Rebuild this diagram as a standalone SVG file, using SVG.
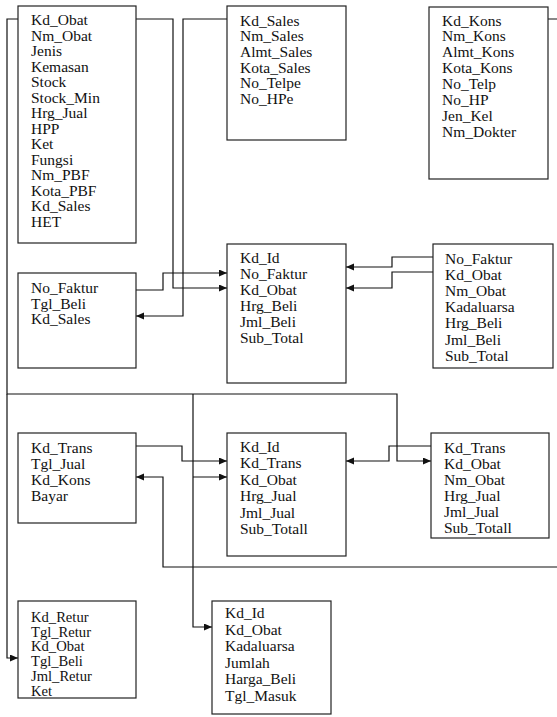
<svg xmlns="http://www.w3.org/2000/svg" width="557" height="717" viewBox="0 0 557 717">
<style>
.box{fill:#fff;stroke:#222;stroke-width:1.2}
.t{font-family:"Liberation Serif","Times New Roman",serif;font-size:15.5px;fill:#111}
.s{font-size:14.6px}
.c{fill:none;stroke:#111;stroke-width:1.2}
.a{marker-end:url(#arr)}
</style>
<defs>
<marker id="arr" markerUnits="userSpaceOnUse" markerWidth="9" markerHeight="8" refX="8" refY="3.5" orient="auto">
<path d="M0,0 L8,3.5 L0,7 z" fill="#111"/>
</marker>
</defs>
<rect width="557" height="717" fill="#fff"/>

<g id="connectors">
<path class="c a" d="M136,19 H173 V288 H227"/>
<path class="c a" d="M227,19 H183 V316 H136"/>
<path class="c a" d="M97,290 H163 V273 H227"/>
<path class="c a" d="M437,257 H392 V267 H346"/>
<path class="c a" d="M437,272 H392 V288 H346"/>
<path class="c a" d="M18,19 H7 V394 H397 V461 H431"/>
<path class="c a" d="M7,394 V658 H18"/>
<path class="c a" d="M193,394 V627 H212"/>
<path class="c a" d="M193,477 H227"/>
<path class="c a" d="M136,446 H182 V461 H227"/>
<path class="c a" d="M433,446 H389 V461 H346"/>
<path class="c a" d="M536,19 H575 V567 H163 V477 H136"/>
</g>

<g id="obat">
<rect class="box" x="18" y="6" width="118" height="237"/>
<text class="t" x="31" y="25">Kd_Obat</text>
<text class="t" x="31" y="40.5">Nm_Obat</text>
<text class="t" x="31" y="56">Jenis</text>
<text class="t" x="31" y="71.5">Kemasan</text>
<text class="t" x="31" y="87">Stock</text>
<text class="t" x="31" y="102.5">Stock_Min</text>
<text class="t" x="31" y="118">Hrg_Jual</text>
<text class="t" x="31" y="133.5">HPP</text>
<text class="t" x="31" y="149">Ket</text>
<text class="t" x="31" y="164.5">Fungsi</text>
<text class="t" x="31" y="180">Nm_PBF</text>
<text class="t" x="31" y="195.5">Kota_PBF</text>
<text class="t" x="31" y="211">Kd_Sales</text>
<text class="t" x="31" y="226.5">HET</text>
</g>

<g id="sales">
<rect class="box" x="227" y="6" width="119" height="134"/>
<text class="t" x="240" y="25.5">Kd_Sales</text>
<text class="t" x="240" y="41.2">Nm_Sales</text>
<text class="t" x="240" y="56.9">Almt_Sales</text>
<text class="t" x="240" y="72.6">Kota_Sales</text>
<text class="t" x="240" y="88.3">No_Telpe</text>
<text class="t" x="240" y="104">No_HPe</text>
</g>

<g id="konsumen">
<rect class="box" x="429" y="7" width="119" height="172"/>
<text class="t" x="442" y="25.5">Kd_Kons</text>
<text class="t" x="442" y="41.4">Nm_Kons</text>
<text class="t" x="442" y="57.3">Almt_Kons</text>
<text class="t" x="442" y="73.2">Kota_Kons</text>
<text class="t" x="442" y="89.1">No_Telp</text>
<text class="t" x="442" y="105">No_HP</text>
<text class="t" x="442" y="120.9">Jen_Kel</text>
<text class="t" x="442" y="136.8">Nm_Dokter</text>
</g>

<g id="pembelian">
<rect class="box" x="18" y="273" width="118" height="95"/>
<text class="t" x="31" y="293">No_Faktur</text>
<text class="t" x="31" y="308.7">Tgl_Beli</text>
<text class="t" x="31" y="324.4">Kd_Sales</text>
</g>

<g id="detail_beli">
<rect class="box" x="227" y="244" width="119" height="139"/>
<text class="t" x="240" y="263">Kd_Id</text>
<text class="t" x="240" y="279">No_Faktur</text>
<text class="t" x="240" y="295">Kd_Obat</text>
<text class="t" x="240" y="311">Hrg_Beli</text>
<text class="t" x="240" y="327">Jml_Beli</text>
<text class="t" x="240" y="343">Sub_Total</text>
</g>

<g id="beli_obat">
<rect class="box" x="433" y="244" width="120" height="124"/>
<text class="t" x="445" y="264">No_Faktur</text>
<text class="t" x="445" y="280.1">Kd_Obat</text>
<text class="t" x="445" y="296.2">Nm_Obat</text>
<text class="t" x="445" y="312.3">Kadaluarsa</text>
<text class="t" x="445" y="328.4">Hrg_Beli</text>
<text class="t" x="445" y="344.5">Jml_Beli</text>
<text class="t" x="445" y="360.6">Sub_Total</text>
</g>

<g id="penjualan">
<rect class="box" x="18" y="433" width="118" height="90"/>
<text class="t" x="31" y="453">Kd_Trans</text>
<text class="t" x="31" y="469">Tgl_Jual</text>
<text class="t" x="31" y="485">Kd_Kons</text>
<text class="t" x="31" y="501">Bayar</text>
</g>

<g id="detail_jual">
<rect class="box" x="227" y="433" width="119" height="123"/>
<text class="t" x="240" y="452">Kd_Id</text>
<text class="t" x="240" y="468.4">Kd_Trans</text>
<text class="t" x="240" y="484.8">Kd_Obat</text>
<text class="t" x="240" y="501.2">Hrg_Jual</text>
<text class="t" x="240" y="517.6">Jml_Jual</text>
<text class="t" x="240" y="534">Sub_Totall</text>
</g>

<g id="jual_obat">
<rect class="box" x="431" y="433" width="118" height="105"/>
<text class="t" x="444" y="453">Kd_Trans</text>
<text class="t" x="444" y="469">Kd_Obat</text>
<text class="t" x="444" y="485">Nm_Obat</text>
<text class="t" x="444" y="501">Hrg_Jual</text>
<text class="t" x="444" y="517">Jml_Jual</text>
<text class="t" x="444" y="533">Sub_Totall</text>
</g>

<g id="retur">
<rect class="box" x="18" y="601" width="118" height="97"/>
<text class="t s" x="31" y="622">Kd_Retur</text>
<text class="t s" x="31" y="636.7">Tgl_Retur</text>
<text class="t s" x="31" y="651.4">Kd_Obat</text>
<text class="t s" x="31" y="666.1">Tgl_Beli</text>
<text class="t s" x="31" y="680.8">Jml_Retur</text>
<text class="t s" x="31" y="695.5">Ket</text>
</g>

<g id="stok">
<rect class="box" x="212" y="601" width="119" height="113"/>
<text class="t" x="225" y="618">Kd_Id</text>
<text class="t" x="225" y="634.5">Kd_Obat</text>
<text class="t" x="225" y="651">Kadaluarsa</text>
<text class="t" x="225" y="667.5">Jumlah</text>
<text class="t" x="225" y="684">Harga_Beli</text>
<text class="t" x="225" y="700.5">Tgl_Masuk</text>
</g>
</svg>
